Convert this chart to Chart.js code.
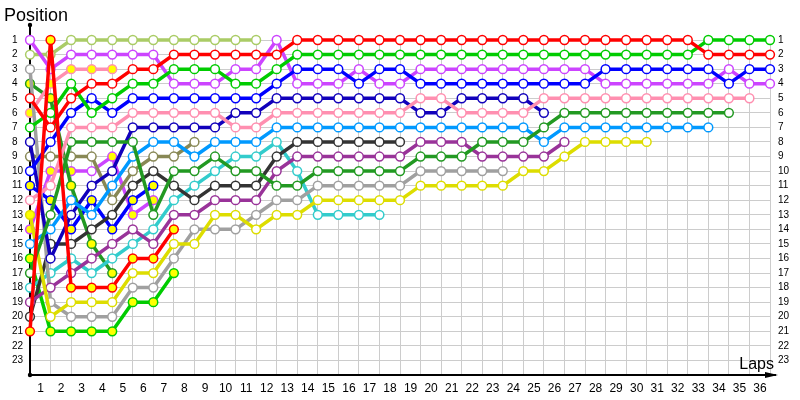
<!DOCTYPE html>
<html>
<head>
<meta charset="utf-8">
<script src="https://cdn.jsdelivr.net/npm/chart.js@4.4.1/dist/chart.umd.min.js"></script>
<style>
    html, body { margin: 0; padding: 0; background: #fff; }
    #contenedor { width: 800px; height: 400px; }
</style>
</head>
<body>
<div id="contenedor"><canvas id="grafico"></canvas></div>
<script>
// Vueltas (0 = parrilla de salida)
const vueltas = [0, 1, 2, 3, 4, 5, 6, 7, 8, 9, 10, 11, 12, 13, 14, 15, 16, 17, 18,
    19, 20, 21, 22, 23, 24, 25, 26, 27, 28, 29, 30, 31, 32, 33, 34, 35, 36];
const posiciones = [1, 2, 3, 4, 5, 6, 7, 8, 9, 10, 11, 12, 13, 14, 15, 16, 17, 18, 19, 20, 21, 22, 23];

// Posicion de cada piloto en cada vuelta, desde la salida
const p01 = [1, 3, 2, 2, 2, 2, 2, 4, 4, 4, 3, 3, 1, 4, 4, 4, 3, 4, 4, 3, 3, 3, 3, 3, 3, 3, 3, 3, 4, 4, 4, 4, 4, 4, 3, 4, 4];
const p02 = [2, 2, 1, 1, 1, 1, 1, 1, 1, 1, 1, 1];
const p03 = [3, 19, 20, 20, 20, 18, 18, 16, 14, 14, 14, 13, 12, 12, 11, 11, 11, 11, 11, 10, 10, 10, 10, 10];
const p04 = [4, 5, 11, 15, 17];
const p05 = [5, 7, 5, 4, 4, 3, 3, 2, 2, 2, 2, 2, 2, 1, 1, 1, 1, 1, 1, 1, 1, 1, 1, 1, 1, 1, 1, 1, 1, 1, 1, 1, 1, 2, 2, 2, 2];
const p06 = [6, 4, 3, 3, 3];
const p07 = [7, 6, 4, 6, 5, 4, 4, 3, 3, 3, 4, 4, 3, 2, 2, 2, 2, 2, 2, 2, 2, 2, 2, 2, 2, 2, 2, 2, 2, 2, 2, 2, 2, 1, 1, 1, 1];
const p08 = [8, 16, 13, 11, 10, 7, 7, 7, 7, 7, 6, 6, 5, 5, 5, 5, 5, 5, 5, 6, 6, 5, 5, 5, 5, 6];
const p09 = [9, 9, 9, 9, 12, 10, 9, 9, 8];
const p10 = [10, 8, 6, 5, 6, 5, 5, 5, 5, 5, 5, 5, 4, 3, 3, 3, 4, 3, 3, 4, 4, 4, 4, 4, 4, 4, 4, 4, 3, 3, 3, 3, 3, 3, 4, 3, 3];
const p11 = [11, 12, 14, 12, 14, 12, 11];
const p12 = [12, 11, 7, 7, 7, 6, 6, 6, 6, 6, 7, 7, 6, 6, 6, 6, 6, 6, 6, 5, 5, 6, 6, 6, 6, 5, 5, 5, 5, 5, 5, 5, 5, 5, 5, 5];
const p13 = [13, 20, 19, 19, 19, 17, 17, 15, 15, 13, 13, 14, 13, 13, 12, 12, 12, 12, 12, 11, 11, 11, 11, 11, 10, 10, 9, 8, 8, 8, 8];
const p14 = [14, 10, 10, 10, 9, 13, 12];
const p15 = [15, 14, 12, 13, 11, 9, 8, 8, 9, 8, 8, 8, 7, 7, 7, 7, 7, 7, 7, 7, 7, 7, 7, 7, 7, 8, 7, 7, 7, 7, 7, 7, 7, 7];
const p16 = [16, 21, 21, 21, 21, 19, 19, 17];
const p17 = [17, 13, 8, 8, 8, 8, 13, 10, 10, 9, 10, 10, 11, 11, 10, 10, 10, 10, 10, 9, 9, 9, 8, 8, 8, 7, 6, 6, 6, 6, 6, 6, 6, 6, 6];
const p18 = [18, 17, 16, 17, 16, 15, 14, 12, 11, 10, 9, 9, 8, 10, 13, 13, 13, 13];
const p19 = [19, 18, 17, 16, 15, 14, 15, 13, 13, 12, 12, 12, 10, 9, 9, 9, 9, 9, 9, 8, 8, 8, 9, 9, 9, 9, 8];
const p20 = [20, 15, 15, 14, 13, 11, 10, 11, 12, 11, 11, 11, 9, 8, 8, 8, 8, 8, 8];
const p21 = [21, 1, 18, 18, 18, 16, 16, 14];

// Vueltas marcadas con circulo amarillo
const marcas04 = [0, 1, 2, 3, 4];
const marcas06 = [0, 1, 2, 3, 4];
const marcas11 = [0, 1, 2, 3, 4, 5, 6];
const marcas13 = [0];
const marcas14 = [0, 1, 2, 4, 5, 6];
const marcas16 = [0, 1, 2, 3, 4, 5, 6, 7];
const marcas21 = [0, 1, 2, 3, 4, 5, 6, 7];

const pilotos = [
    { datos: p21, color: "#ff0000", marcas: marcas21 },
    { datos: p05, color: "#ff0000", marcas: [] },
    { datos: p07, color: "#00cc00", marcas: [] },
    { datos: p10, color: "#0000ff", marcas: [] },
    { datos: p01, color: "#cc44ff", marcas: [] },
    { datos: p12, color: "#ff8fb0", marcas: [] },
    { datos: p17, color: "#229922", marcas: [] },
    { datos: p15, color: "#0099ff", marcas: [] },
    { datos: p13, color: "#dddd00", marcas: marcas13 },
    { datos: p08, color: "#1100bb", marcas: [] },
    { datos: p19, color: "#993399", marcas: [] },
    { datos: p03, color: "#a0a0a0", marcas: [] },
    { datos: p20, color: "#333333", marcas: [] },
    { datos: p18, color: "#33cccc", marcas: [] },
    { datos: p02, color: "#aacc66", marcas: [] },
    { datos: p09, color: "#888855", marcas: [] },
    { datos: p06, color: "#ff8fb0", marcas: marcas06 },
    { datos: p04, color: "#229922", marcas: marcas04 },
    { datos: p11, color: "#0000ff", marcas: marcas11 },
    { datos: p14, color: "#cc44ff", marcas: marcas14 },
    { datos: p16, color: "#00cc00", marcas: marcas16 }
];

const fuente = "'Liberation Sans', Arial, sans-serif";

// Textos de ejes, flecha y extension del eje vertical
const decoracion = {
    id: "decoracion",
    beforeDatasetsDraw(chart) {
        const { ctx, chartArea } = chart;
        ctx.save();
        ctx.strokeStyle = "#000";
        ctx.fillStyle = "#000";
        ctx.lineWidth = 2;
        ctx.beginPath();
        ctx.moveTo(chartArea.left, chartArea.top);
        ctx.lineTo(chartArea.left, 25);
        ctx.moveTo(chartArea.right, chartArea.bottom);
        ctx.lineTo(chartArea.right + 6, chartArea.bottom);
        ctx.stroke();
        ctx.beginPath();
        ctx.moveTo(chartArea.right - 5, chartArea.bottom - 3);
        ctx.lineTo(chartArea.right + 8, chartArea.bottom);
        ctx.lineTo(chartArea.right - 5, chartArea.bottom + 3);
        ctx.closePath();
        ctx.fill();
        ctx.beginPath();
        ctx.arc(chartArea.left, 25, 2.2, 0, Math.PI * 2);
        ctx.arc(chartArea.left, chartArea.bottom, 2.2, 0, Math.PI * 2);
        ctx.fill();
        ctx.restore();
    },
    afterDraw(chart) {
        const { ctx } = chart;
        ctx.save();
        ctx.fillStyle = "#000";
        ctx.textBaseline = "alphabetic";
        ctx.font = `18px ${fuente}`;
        ctx.textAlign = "left";
        ctx.fillText("Position", 4, 21);
        ctx.font = `16px ${fuente}`;
        ctx.textAlign = "right";
        ctx.fillText("Laps", 774, 369);
        ctx.restore();
    }
};

const datasets = pilotos.map(piloto => ({
    data: piloto.datos.map((pos, i) => ({ x: vueltas[i], y: pos })),
    borderColor: piloto.color,
    borderWidth: 3.5,
    pointRadius: 4.4,
    pointBorderWidth: 1.5,
    pointBorderColor: piloto.color,
    pointBackgroundColor: piloto.datos.map((pos, i) =>
        piloto.marcas.includes(vueltas[i]) ? "#ffff00" : "#ffffff"),
    tension: 0,
    clip: false,
    yAxisID: "y"
}));

const etiquetaPosicion = value => (posiciones.includes(value) ? value : "");

new Chart(document.getElementById("grafico"), {
    type: "line",
    data: { datasets: datasets },
    plugins: [decoracion],
    options: {
        responsive: true,
        maintainAspectRatio: false,
        animation: false,
        events: [],
        layout: {
            padding: { top: 40, left: 12, right: 0, bottom: 0 }
        },
        plugins: {
            legend: { display: false },
            title: { display: false },
            tooltip: { enabled: false }
        },
        scales: {
            x: {
                type: "linear",
                min: 0,
                max: 36,
                afterFit: scale => { scale.height = 25; },
                grid: { color: "#cccccc", drawTicks: false },
                border: { color: "#000", width: 2 },
                ticks: {
                    stepSize: 1,
                    autoSkip: false,
                    maxRotation: 0,
                    padding: 6,
                    labelOffset: -10,
                    color: "#000",
                    font: { family: fuente, size: 12 },
                    callback: value => (value === 0 ? "" : value)
                }
            },
            y: {
                type: "linear",
                position: "left",
                reverse: true,
                min: 1,
                max: 24,
                afterFit: scale => { scale.width = 18; },
                grid: { color: "#cccccc", drawTicks: false },
                border: { color: "#000", width: 2 },
                ticks: {
                    stepSize: 1,
                    autoSkip: false,
                    crossAlign: "far",
                    color: "#000",
                    font: { family: fuente, size: 10 },
                    callback: etiquetaPosicion
                }
            },
            yDer: {
                type: "linear",
                position: "right",
                reverse: true,
                min: 1,
                max: 24,
                afterFit: scale => { scale.width = 30; },
                grid: { display: false, drawTicks: false },
                border: { display: false },
                ticks: {
                    stepSize: 1,
                    autoSkip: false,
                    padding: 8,
                    color: "#000",
                    font: { family: fuente, size: 10 },
                    callback: etiquetaPosicion
                }
            }
        }
    }
});
</script>
</body>
</html>
